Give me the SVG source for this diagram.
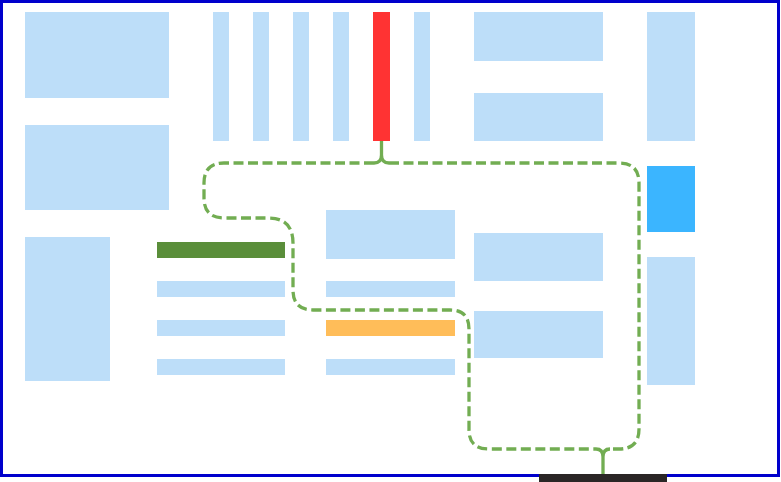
<svg xmlns="http://www.w3.org/2000/svg" width="781" height="482" viewBox="0 0 781 482">
<style>
.b{fill:#bddef9}
.c{fill:none;stroke:#72ad52;stroke-width:3.3;stroke-linecap:butt}
.d{stroke-dasharray:10 4.5}
</style>
<rect x="1.5" y="1.5" width="777" height="474" fill="#fff" stroke="#0000cc" stroke-width="3"/>
<g id="n1"><rect class="b" x="25" y="12" width="144" height="86"/></g>
<g id="n2"><rect class="b" x="25" y="125" width="144" height="85"/></g>
<g id="n3"><rect class="b" x="25" y="237" width="85" height="144"/></g>
<g id="v1"><rect class="b" x="213" y="12" width="16" height="129"/></g>
<g id="v2"><rect class="b" x="253" y="12" width="16" height="129"/></g>
<g id="v3"><rect class="b" x="293" y="12" width="16" height="129"/></g>
<g id="v4"><rect class="b" x="333" y="12" width="16" height="129"/></g>
<g id="v5"><rect x="373" y="12" width="17" height="129" fill="#ff3333"/></g>
<g id="v6"><rect class="b" x="414" y="12" width="16" height="129"/></g>
<g id="r1"><rect class="b" x="474" y="12" width="129" height="49"/></g>
<g id="r2"><rect class="b" x="474" y="93" width="129" height="48"/></g>
<g id="c1"><rect class="b" x="647" y="12" width="48" height="129"/></g>
<g id="c2"><rect x="647" y="166" width="48" height="66" fill="#3bb5ff"/></g>
<g id="c3"><rect class="b" x="647" y="257" width="48" height="128"/></g>
<g id="h1"><rect x="157" y="242" width="128" height="16" fill="#5a8e3a"/></g>
<g id="h2"><rect class="b" x="157" y="281" width="128" height="16"/></g>
<g id="h3"><rect class="b" x="157" y="320" width="128" height="16"/></g>
<g id="h4"><rect class="b" x="157" y="359" width="128" height="16"/></g>
<g id="m1"><rect class="b" x="326" y="210" width="129" height="49"/></g>
<g id="m2"><rect class="b" x="326" y="281" width="129" height="16"/></g>
<g id="m3"><rect x="326" y="320" width="129" height="16" fill="#ffbd59"/></g>
<g id="m4"><rect class="b" x="326" y="359" width="129" height="16"/></g>
<g id="p1"><rect class="b" x="474" y="233" width="129" height="48"/></g>
<g id="p2"><rect class="b" x="474" y="311" width="129" height="47"/></g>
<g id="sink"><rect x="539" y="474" width="128" height="8" fill="#2a2626"/></g>
<g id="connectors">
<path class="c" d="M381.5,141 V155 Q381.5,163 374,163 M381.5,155 Q381.5,163 389,163"/>
<path class="c d" d="M374,163 H224 Q204,163 204,183 V198 Q204,218 224,218 H268 Q293,218 293,243 V290 Q293,310 313,310 H450 Q469,310 469,329 V430 Q469,449 489,449 H596"/>
<path class="c d" d="M389,163 H619 Q639,163 639,183 V429 Q639,449 619,449 H610"/>
<path class="c" d="M596,449 Q603,449 603,457 M610,449 Q603,449 603,457 V474"/>
</g>
</svg>
